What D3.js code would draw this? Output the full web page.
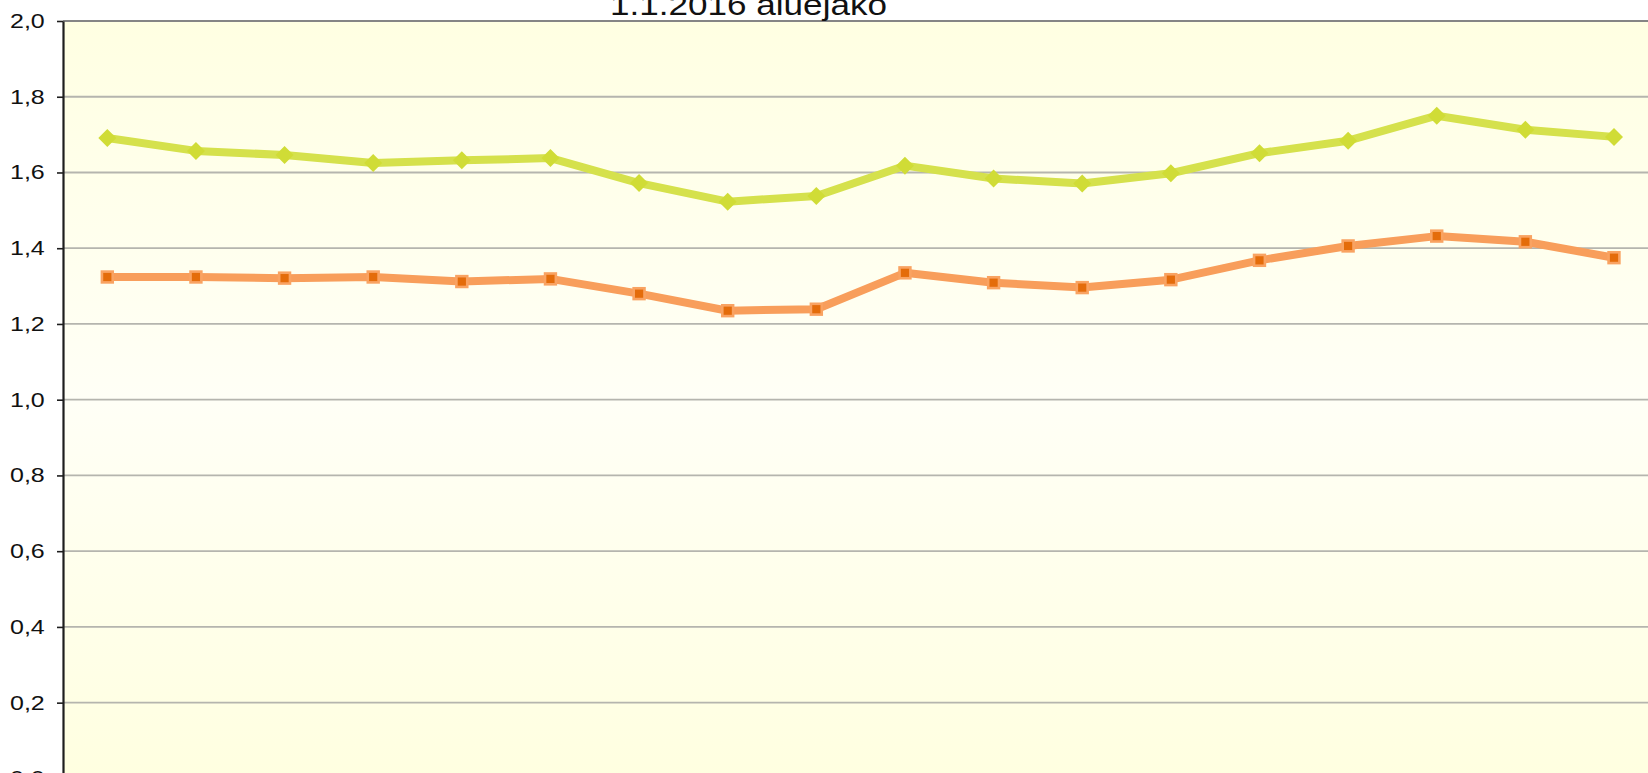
<!DOCTYPE html>
<html>
<head>
<meta charset="utf-8">
<script src="https://cdn.jsdelivr.net/npm/d3@7"></script>
<style>
  html, body { margin: 0; padding: 0; background: #ffffff; overflow: hidden; }
  svg { display: block; }
  text { font-family: "Liberation Sans", Arial, sans-serif; }
</style>
</head>
<body>
<svg id="chart" width="1648" height="773"></svg>
<script>
// ---- Data ----
const titleText = "1.1.2016 aluejako";
const categories = ["1","2","3","4","5","6","7","8","9","10","11","12","13","14","15","16","17","18"];
const greenValues  = [1.691,1.657,1.646,1.625,1.632,1.638,1.572,1.523,1.538,1.618,1.584,1.571,1.598,1.651,1.684,1.750,1.713,1.694];
const orangeValues = [1.324,1.324,1.321,1.324,1.312,1.319,1.280,1.235,1.239,1.335,1.309,1.296,1.317,1.368,1.406,1.432,1.417,1.375];
const yTicks = [0,0.2,0.4,0.6,0.8,1.0,1.2,1.4,1.6,1.8,2.0];

// ---- Layout ----
const svg = d3.select("#chart");
const plot = { left: 63, right: 1658.3, top: 21, bottom: 778.4 };
const stretchX = 1.25;

const x = d3.scalePoint().domain(categories).range([plot.left, plot.right]).padding(0.5);
const y = d3.scaleLinear().domain([0, 2]).range([plot.bottom, plot.top]);

// background gradient
const defs = svg.append("defs");
const grad = defs.append("linearGradient").attr("id", "bg").attr("x1", 0).attr("y1", 0).attr("x2", 0).attr("y2", 1);
grad.append("stop").attr("offset", "0%").attr("stop-color", "#FFFFE2");
grad.append("stop").attr("offset", "50%").attr("stop-color", "#FFFFF6");
grad.append("stop").attr("offset", "100%").attr("stop-color", "#FFFFE0");

svg.append("rect")
  .attr("x", plot.left).attr("y", plot.top)
  .attr("width", plot.right - plot.left + 4).attr("height", plot.bottom - plot.top)
  .attr("fill", "url(#bg)");

// gridlines
svg.append("g").selectAll("line")
  .data(yTicks.filter(t => t > 0 && t < 2))
  .join("line")
  .attr("x1", plot.left).attr("x2", plot.right + 4)
  .attr("y1", d => y(d)).attr("y2", d => y(d))
  .attr("stroke", "#b5b5ae").attr("stroke-width", 1.8);

// plot border (top visible)
svg.append("line")
  .attr("x1", plot.left).attr("x2", plot.right + 4)
  .attr("y1", y(2)).attr("y2", y(2))
  .attr("stroke", "#858585").attr("stroke-width", 2.2);

// y axis
const fmt = d => d3.format(".1f")(d).replace(".", ",");
const yAxis = svg.append("g")
  .attr("transform", `translate(${plot.left},0)`)
  .call(d3.axisLeft(y).tickValues(yTicks).tickFormat(fmt).tickSize(6).tickSizeOuter(0).tickPadding(8.6));
yAxis.select(".domain").attr("stroke", "#1e1e1e").attr("stroke-width", 2.2);
yAxis.selectAll(".tick line").attr("stroke", "#1e1e1e").attr("stroke-width", 1.6);
yAxis.selectAll(".tick text")
  .attr("font-size", 20)
  .attr("fill", "#111")
  .attr("font-family", "Liberation Sans, Arial, sans-serif")
  .attr("transform", `scale(${stretchX},1)`);

// title (clipped at top in reference)
svg.append("text")
  .attr("x", 610).attr("y", 14.5)
  .attr("font-size", 30)
  .attr("fill", "#111")
  .attr("textLength", 277)
  .attr("lengthAdjust", "spacingAndGlyphs")
  .text(titleText);

// lines
const line = d3.line().x((d, i) => x(categories[i])).y(d => y(d));

svg.append("path").datum(greenValues)
  .attr("d", line).attr("fill", "none")
  .attr("stroke", "#D5E14C").attr("stroke-width", 8)
  .attr("stroke-linejoin", "round").attr("stroke-linecap", "round");

svg.append("path").datum(orangeValues)
  .attr("d", line).attr("fill", "none")
  .attr("stroke", "#F89E5B").attr("stroke-width", 8)
  .attr("stroke-linejoin", "round").attr("stroke-linecap", "round");

// green diamond markers
const r = 9;
svg.append("g").selectAll("path")
  .data(greenValues)
  .join("path")
  .attr("transform", (d, i) => `translate(${x(categories[i])},${y(d)})`)
  .attr("d", `M0,${-r}L${r},0L0,${r}L${-r},0Z`)
  .attr("fill", "#D0DC36");

// orange square markers
const s = 10.8;
svg.append("g").selectAll("rect")
  .data(orangeValues)
  .join("rect")
  .attr("x", (d, i) => x(categories[i]) - s / 2)
  .attr("y", d => y(d) - s / 2)
  .attr("width", s).attr("height", s)
  .attr("fill", "#E46C0A")
  .attr("stroke", "#F9A362").attr("stroke-width", 2.6);
</script>
</body>
</html>
